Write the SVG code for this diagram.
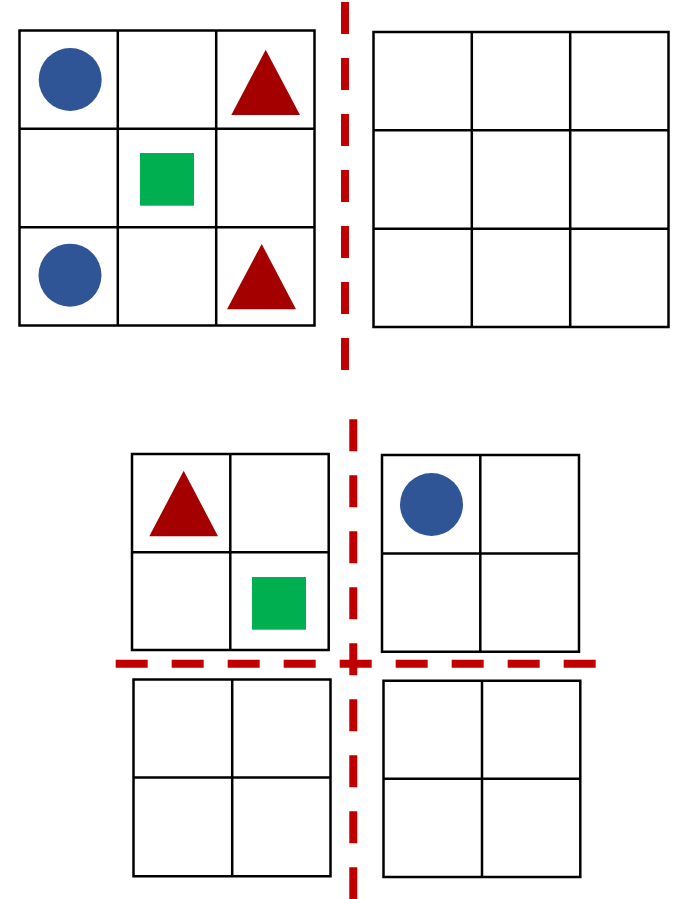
<svg xmlns="http://www.w3.org/2000/svg" width="682" height="899" viewBox="0 0 682 899">
<style>
.grid{fill:none;stroke:#000;stroke-width:2.5}
.cut{fill:none;stroke:#C00000;stroke-width:8;stroke-dasharray:32 24}
.circ{fill:#2F5597}
.tri{fill:#A50000}
.sq{fill:#00B050}
</style>
<rect width="682" height="899" fill="#fff"/>
<g id="connectors">
<line class="cut" x1="345" y1="2" x2="345" y2="372"/>
<line class="cut" x1="353.3" y1="419.3" x2="353.3" y2="899"/>
<line class="cut" x1="115.7" y1="663.8" x2="596" y2="663.8"/>
</g>
<g id="grid-top-left">
<path class="grid" d="M19.5 30.5H314.5V325.5H19.5Z M117.8 30.5V325.5 M216.2 30.5V325.5 M19.5 128.8H314.5 M19.5 227.2H314.5"/>
<circle class="circ" cx="70.2" cy="79.5" r="31.5"/>
<polygon class="tri" points="265.7,49.7 300,115 231.3,115"/>
<rect class="sq" x="140" y="153" width="54" height="52.7"/>
<circle class="circ" cx="70" cy="275.2" r="31.5"/>
<polygon class="tri" points="261.7,244 296,309.3 227,309.3"/>
</g>
<g id="grid-top-right">
<path class="grid" d="M373.5 32H668.5V327H373.5Z M471.8 32V327 M570.2 32V327 M373.5 130.3H668.5 M373.5 228.7H668.5"/>
</g>
<g id="grid-q1">
<path class="grid" d="M132 454H328.7V650H132Z M230.3 454V650 M132 552.3H328.7"/>
<polygon class="tri" points="183.7,470.7 218,536.3 149.3,536.3"/>
<rect class="sq" x="252" y="577" width="54" height="52.7"/>
</g>
<g id="grid-q2">
<path class="grid" d="M382 455H579V651.7H382Z M480.3 455V651.7 M382 553.5H579"/>
<circle class="circ" cx="431.5" cy="504.5" r="31.5"/>
</g>
<g id="grid-q3">
<path class="grid" d="M133.5 679.5H330.5V876.3H133.5Z M232.2 679.5V876.3 M133.5 777.5H330.5"/>
</g>
<g id="grid-q4">
<path class="grid" d="M383.5 680.7H580.3V877H383.5Z M482 680.7V877 M383.5 778.8H580.3"/>
</g>
</svg>
